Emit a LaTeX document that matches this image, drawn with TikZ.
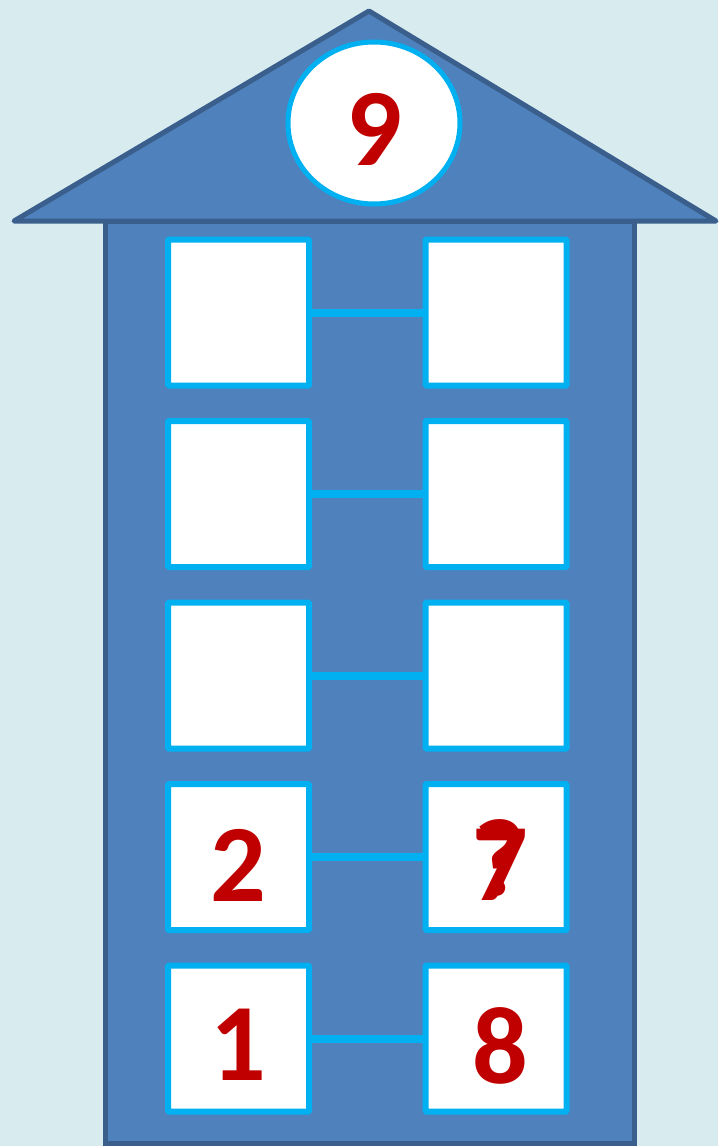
\documentclass[tikz,border=0pt]{standalone}
\usepackage{fontspec}
\setmainfont{Carlito}
\usetikzlibrary{shapes.geometric}
\definecolor{bg}{HTML}{D8ECEF}
\definecolor{house}{HTML}{4F81BD}
\definecolor{houseline}{HTML}{3A5F8C}
\definecolor{cyanline}{HTML}{00B0F0}
\definecolor{digit}{HTML}{C00000}
\tikzset{
  cell/.style={draw=cyanline, line width=6pt, fill=white, minimum width=141pt, minimum height=146pt, inner sep=0pt, rounded corners=1pt},
  link/.style={draw=cyanline, line width=8pt},
  num/.style={text=digit, font=\fontsize{110}{110}\selectfont\bfseries, inner sep=0pt, anchor=center},
}
\begin{document}
\begin{tikzpicture}[x=1pt,y=-1pt]
\fill[bg] (0,0) rectangle (718,1146);
\useasboundingbox (0,0) rectangle (718,1146);
% body
\draw[houseline, line width=5pt, fill=house] (105,221) rectangle (634,1143);
% roof
\draw[houseline, line width=5pt, fill=house, line join=round, line cap=round] (14,221) -- (369,11) -- (716,221) -- cycle;
% top ellipse
\node[ellipse, draw=cyanline, line width=5pt, fill=white, minimum width=172pt, minimum height=162pt, inner sep=0pt] (top) at (374,123) {};
\node[num] (nine) at (374,129) {9};
% cells
\foreach \i/\y in {1/312.5, 2/494, 3/675.5, 4/857, 5/1038.5} {
  \node[cell] (L\i) at (238.5,\y) {};
  \node[cell] (R\i) at (496,\y) {};
  \draw[link] (L\i.east) -- (R\i.west);
}
\node[num] (two) at (238,865) {2};
\node[num] (seven) at (500,865) {7};
\node[num] (q) at (500,858) {?};
\node[num] (one) at (238,1045) {1};
\node[num] (eight) at (500,1046) {8};
\end{tikzpicture}
\end{document}
